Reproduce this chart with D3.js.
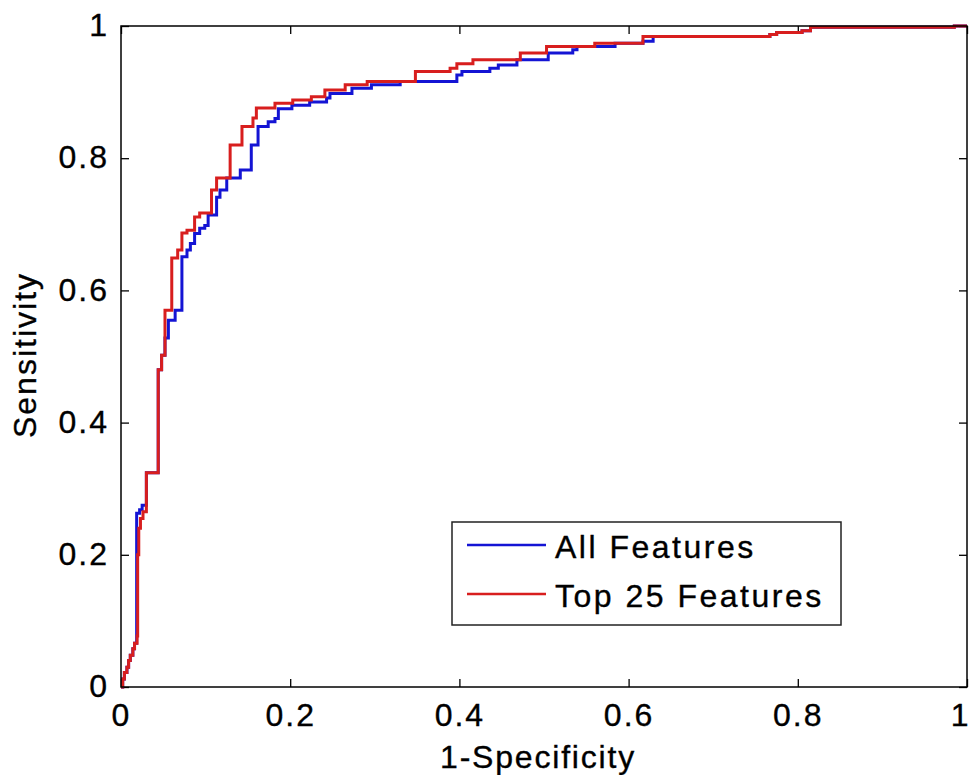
<!DOCTYPE html>
<html>

<head>
  <meta charset="UTF-8">
  <title>ROC curves</title>
  <script src="https://d3js.org/d3.v7.min.js"></script>
  <style>
    body { margin: 0; background: #fff; }
    text { font-family: "Liberation Sans", Arial, sans-serif; fill: #000; stroke: #000; stroke-width: 0.35px; }
  </style>
</head>

<body>
  <svg></svg>
</body>

<script>
  // ROC points (1-specificity, sensitivity)
  let fprAll = [0, 0.002, 0.004, 0.007, 0.009, 0.011, 0.014, 0.016, 0.0185, 0.022, 0.025, 0.030,
    0.044, 0.048, 0.052, 0.056, 0.064, 0.072, 0.078, 0.082, 0.087, 0.093, 0.099, 0.103, 0.113,
    0.117, 0.125, 0.141, 0.154, 0.162, 0.174, 0.182, 0.186, 0.202, 0.223, 0.243, 0.247, 0.273,
    0.296, 0.330, 0.397, 0.403, 0.436, 0.446, 0.468, 0.505, 0.534, 0.539, 0.584, 0.617, 0.629,
    0.767, 0.775, 0.805, 0.815, 0.985, 1];
  let tprAll = [0, 0.012, 0.022, 0.030, 0.040, 0.048, 0.058, 0.066, 0.263, 0.268, 0.275, 0.324,
    0.480, 0.502, 0.528, 0.555, 0.570, 0.651, 0.661, 0.671, 0.686, 0.694, 0.698, 0.714, 0.741,
    0.752, 0.770, 0.782, 0.820, 0.848, 0.855, 0.860, 0.875, 0.880, 0.885, 0.891, 0.898, 0.906,
    0.911, 0.916, 0.926, 0.931, 0.936, 0.941, 0.949, 0.959, 0.964, 0.969, 0.974, 0.977, 0.984,
    0.987, 0.990, 0.993, 0.998, 1.0, 1];

  let fprTop = [0, 0.002, 0.004, 0.007, 0.009, 0.011, 0.014, 0.016, 0.019, 0.0197, 0.021, 0.023,
    0.026, 0.030, 0.044, 0.048, 0.052, 0.060, 0.067, 0.072, 0.078, 0.087, 0.093, 0.107, 0.113,
    0.129, 0.143, 0.156, 0.160, 0.182, 0.203, 0.225, 0.241, 0.265, 0.291, 0.348, 0.389, 0.397,
    0.416, 0.472, 0.503, 0.560, 0.617, 0.767, 0.775, 0.805, 0.815, 0.985, 1];
  let tprTop = [0, 0.012, 0.022, 0.030, 0.040, 0.048, 0.058, 0.066, 0.077, 0.200, 0.240, 0.255,
    0.265, 0.324, 0.480, 0.502, 0.570, 0.649, 0.661, 0.687, 0.691, 0.711, 0.717, 0.752, 0.770,
    0.820, 0.848, 0.861, 0.876, 0.883, 0.888, 0.893, 0.903, 0.911, 0.916, 0.931, 0.936, 0.943,
    0.949, 0.959, 0.969, 0.974, 0.984, 0.987, 0.990, 0.993, 0.998, 1.0, 1];

  let tickValues = [0, 0.2, 0.4, 0.6, 0.8, 1];
  let seriesNames = ["All Features", "Top 25 Features"];
  let seriesColors = ["#1414d4", "#d81e1e"];

  let width = 971,
    height = 775;
  let plotLeft = 121, plotRight = 967, plotTop = 26, plotBottom = 687;

  let svg = d3.select("svg")
    .attr("width", width)
    .attr("height", height);

  let x = d3.scaleLinear().domain([0, 1]).range([plotLeft, plotRight]);
  let y = d3.scaleLinear().domain([0, 1]).range([plotBottom, plotTop]);

  let fmt = d => d == 0 || d == 1 ? String(d) : d3.format(".1f")(d);

  // axes, ticks pointing inward
  let xAxis = svg.append("g")
    .attr("transform", "translate(0," + plotBottom + ")")
    .call(d3.axisBottom(x).tickValues(tickValues).tickSizeInner(-8).tickSizeOuter(0).tickPadding(16).tickFormat(fmt));
  svg.append("g")
    .attr("transform", "translate(0," + plotTop + ")")
    .call(d3.axisTop(x).tickValues(tickValues).tickSizeInner(-8).tickSizeOuter(0).tickFormat(""));
  let yAxis = svg.append("g")
    .attr("transform", "translate(" + plotLeft + ",0)")
    .call(d3.axisLeft(y).tickValues(tickValues).tickSizeInner(-8).tickSizeOuter(0).tickPadding(12).tickFormat(fmt));
  svg.append("g")
    .attr("transform", "translate(" + plotRight + ",0)")
    .call(d3.axisRight(y).tickValues(tickValues).tickSizeInner(-8).tickSizeOuter(0).tickFormat(""));

  svg.selectAll(".domain").remove();
  svg.selectAll(".tick line").attr("stroke", "#000").attr("stroke-width", 1.3);
  svg.selectAll(".tick text")
    .attr("font-size", 32)
    .attr("letter-spacing", "2px")
    .attr("fill", "#000");
  svg.selectAll("g").attr("font-family", null).attr("font-size", null);
  yAxis.selectAll(".tick text").attr("dy", "0.3em");
  // the last label sits at the window edge, keep it inside
  xAxis.selectAll(".tick text").filter(d => d == 1)
    .attr("text-anchor", "end")
    .attr("x", 3);

  // curves
  let line = d3.line()
    .x(d => x(d[0]))
    .y(d => y(d[1]))
    .curve(d3.curveStepAfter);

  let series = [
    d3.zip(fprAll, tprAll),
    d3.zip(fprTop, tprTop)
  ];

  svg.append("g")
    .selectAll("path")
    .data(series)
    .enter()
    .append("path")
    .attr("d", line)
    .attr("fill", "none")
    .attr("stroke", (d, i) => seriesColors[i])
    .attr("stroke-width", 3)
    .attr("stroke-linejoin", "miter");

  // frame
  svg.append("rect")
    .attr("x", plotLeft)
    .attr("y", plotTop)
    .attr("width", plotRight - plotLeft)
    .attr("height", plotBottom - plotTop)
    .attr("fill", "none")
    .attr("stroke", "#000")
    .attr("stroke-width", 1.5);

  // axis titles
  svg.append("text")
    .attr("x", (plotLeft + plotRight) / 2 - 6)
    .attr("y", 768)
    .attr("text-anchor", "middle")
    .attr("font-size", 32)
    .attr("letter-spacing", "1.8px")
    .text("1-Specificity");

  svg.append("text")
    .attr("transform", "translate(36,355) rotate(-90)")
    .attr("text-anchor", "middle")
    .attr("font-size", 32)
    .attr("letter-spacing", "2px")
    .text("Sensitivity");

  // legend
  let legend = svg.append("g");
  legend.append("rect")
    .attr("x", 452)
    .attr("y", 522)
    .attr("width", 389)
    .attr("height", 103)
    .attr("fill", "#fff")
    .attr("stroke", "#222")
    .attr("stroke-width", 1.5);

  let items = legend.selectAll(".item")
    .data(seriesNames)
    .enter()
    .append("g")
    .attr("transform", (d, i) => "translate(0," + (545 + i * 49) + ")");

  items.append("line")
    .attr("x1", 467)
    .attr("x2", 546)
    .attr("stroke", (d, i) => seriesColors[i])
    .attr("stroke-width", 2.5);

  items.append("text")
    .attr("x", 555)
    .attr("y", 13)
    .attr("font-size", 32)
    .attr("letter-spacing", "2.5px")
    .text(d => d);
</script>

</html>
